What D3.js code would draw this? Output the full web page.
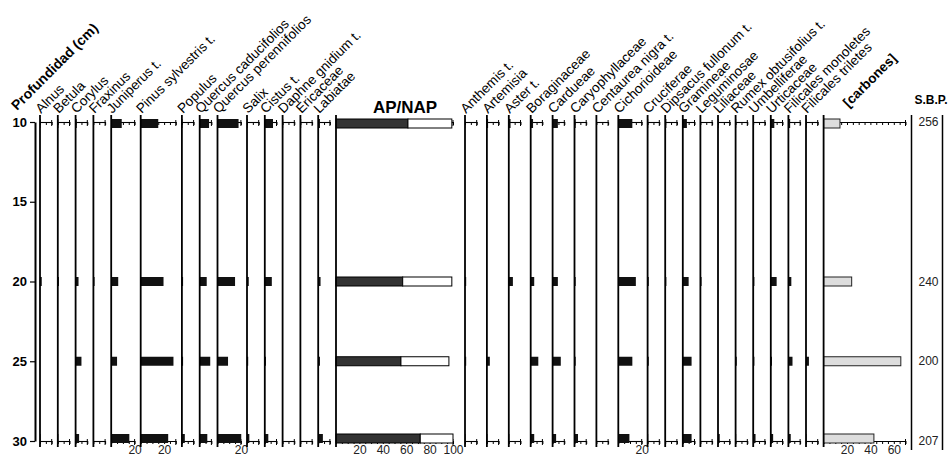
<!DOCTYPE html>
<html><head><meta charset="utf-8">
<script src="https://cdn.jsdelivr.net/npm/d3@7"></script>
<style>body{margin:0;background:#fff}svg{display:block;font-family:"Liberation Sans",Arial,sans-serif}</style>
</head><body><svg id="c" width="948" height="457"></svg>
<script>
// ---------- data ----------
const depths = [10, 20, 25, 30];
const depthTicks = [10, 15, 20, 25, 30];
const sbpAges = [256, 240, 200, 207];

const leftTaxa = ["Alnus","Betula","Corylus","Fraxinus","Juniperus t.","Pinus sylvestris t.","Populus",
  "Quercus caducifolios","Quercus perennifolios","Salix","Cistus t.","Daphne gnidium t.","Ericaceae","Labiatae"];
const rightTaxa = ["Anthemis t.","Artemisia","Aster t.","Boraginaceae","Cardueae","Caryophyllaceae",
  "Centaurea nigra t.","Cichorioideae","Cruciferae","Dipsacus fullonum t.","Gramineae","Leguminosae",
  "Liliaceae","Rumex obtusifolius t.","Umbelliferae","Urticaceae","Filicales monoletes","Filicales triletes"];

// axis maxima (%) of each taxon panel
const leftMax  = [10,10,10,10,20,30,10,10,20,10,10,10,10,10];
const rightMax = [10,10,10,10,10,10,10,20,10,10,10,10,10,10,10,10,10,10];
const labelledTicks = [20];
const labelledTaxa = ["Juniperus t.","Pinus sylvestris t.","Quercus perennifolios","Cichorioideae"];

// percentages per depth (left taxa)
const left10 = [0.5,0.5,1,0.5,9,15,0.5,8,18,0.5,7,0.5,0.7,1.5];
const left20 = [1.5,1,2.5,1,6,19.5,1,6,15,1.5,6,0,0,2];
const left25 = [0,0,5,0,5,28,1,9,9,1,1,0,0,1.5];
const left30 = [0.5,0.5,3,0.5,15.5,23.5,2.5,6.5,20.3,2,3,0.3,0.5,4];
// percentages per depth (right taxa)
const right10 = [0.3,1,1.5,2,4.5,1,0.5,12,0.5,1,3.5,0.5,0.5,0.5,0.5,3,1.5,0.5];
const right20 = [1,0,3.5,3,4.5,1,0,15,1,1,5,1,0,0,1,5,2.5,0];
const right25 = [1,2.5,0,6.5,7,1,0,12,1,0,7.5,0,0,1,1,1,3.5,2.5];
const right30 = [0.5,0.5,0.5,3,3,3,0.3,9.5,0.5,0.5,7.5,0.5,1.5,0.5,2,2,2,0.5];

const apValues  = [61.5, 57, 55.5, 72];
const napValues = [37.5, 42, 41, 28];
const apTicks = [20, 40, 60, 80, 100];

const carbones = [14, 24, 66, 43];
const carbonesMax = 70;
const carbonesTicks = [20, 40, 60];

// ---------- layout ----------
const svg = d3.select("#c");
const y = d3.scaleLinear().domain([10, 30]).range([122, 441]);
const K = 1.17;              // px per percent
const barH = 9;
const lineTop = 115, lineBot = 447;
function barTop(d) {
  let t = y(d) - barH / 2;
  t = Math.max(t, y(10) - 3);
  t = Math.min(t, y(30) + 2 - barH);
  return t;
}

// depth axis
const dAx = svg.append("g").attr("transform", "translate(35,0)")
  .call(d3.axisLeft(y).tickValues(depthTicks).tickSize(5).tickSizeOuter(0).tickPadding(3));
dAx.select(".domain").attr("stroke-width", 2);
dAx.selectAll("text").attr("font-size", 13).attr("font-weight", "bold").attr("fill", "#000")
  .attr("font-family", "Liberation Sans, Arial, sans-serif");
dAx.selectAll("line").attr("stroke-width", 1.2);

svg.append("text").attr("transform", "translate(17,111) rotate(-45)")
  .attr("font-size", 14).attr("font-weight", "bold").text("Profundidad (cm)");

function panelAxes(xs, max, tickLabels) {
  const ticks = d3.range(0, max + 0.01, 5);
  [y(10), y(30)].forEach((yy, i) => {
    const ax = d3.axisBottom(xs).tickValues(ticks).tickSize(3).tickSizeOuter(0).tickPadding(1)
      .tickFormat(v => (i === 1 && tickLabels.includes(v)) ? v : "");
    const g = svg.append("g").attr("transform", `translate(0,${yy})`).call(ax);
    g.select(".domain").attr("stroke-width", 1.1);
    g.selectAll("line").attr("stroke-width", 1);
    g.selectAll("text").attr("font-size", 12).attr("fill", "#222")
      .attr("font-family", "Liberation Sans, Arial, sans-serif");
    // right end tick
    g.append("line").attr("x1", xs(max)).attr("x2", xs(max)).attr("y1", -2).attr("y2", 4)
      .attr("stroke", "#000");
  });
}

function baseline(x0) {
  svg.append("line").attr("x1", x0).attr("x2", x0).attr("y1", lineTop).attr("y2", lineBot)
    .attr("stroke", "#000").attr("stroke-width", 1.8);
}

function taxonLabel(x0, name) {
  svg.append("text").attr("transform", `translate(${x0 + 1},${114}) rotate(-45)`)
    .attr("font-size", 13.6).text(name);
}

function pollenPanel(x0, name, max, vals) {
  const xs = d3.scaleLinear().domain([0, max]).range([x0, x0 + max * K]);
  panelAxes(xs, max, labelledTaxa.includes(name) ? labelledTicks : []);
  svg.append("g").selectAll("rect").data(depths).join("rect")
    .attr("x", x0).attr("y", d => barTop(d))
    .attr("width", (d, i) => xs(vals[i]) - x0).attr("height", barH)
    .attr("fill", "#111");
  baseline(x0);
  taxonLabel(x0, name);
  return x0 + max * K;
}

let x = 40;
leftTaxa.forEach((name, j) => {
  const vals = [left10[j], left20[j], left25[j], left30[j]];
  const end = pollenPanel(x, name, leftMax[j], vals);
  x = end + 6.1;
});

// AP/NAP panel
{
  const x0 = x;
  const xs = d3.scaleLinear().domain([0, 100]).range([x0, x0 + 100 * K]);
  panelAxes(xs, 100, apTicks);
  const g = svg.append("g");
  g.selectAll("rect.ap").data(depths).join("rect").attr("class", "ap")
    .attr("x", x0).attr("y", d => barTop(d))
    .attr("width", (d, i) => xs(apValues[i]) - x0).attr("height", barH)
    .attr("fill", "#333").attr("stroke", "#000").attr("stroke-width", 1);
  g.selectAll("rect.nap").data(depths).join("rect").attr("class", "nap")
    .attr("x", (d, i) => xs(apValues[i])).attr("y", d => barTop(d))
    .attr("width", (d, i) => xs(apValues[i] + napValues[i]) - xs(apValues[i])).attr("height", barH)
    .attr("fill", "#fff").attr("stroke", "#000").attr("stroke-width", 1);
  baseline(x0);
  svg.append("text").attr("x", xs(59)).attr("y", 113).attr("text-anchor", "middle")
    .attr("font-size", 17).attr("font-weight", "bold").text("AP/NAP");
  x = xs(100) + 12;
}

rightTaxa.forEach((name, j) => {
  const vals = [right10[j], right20[j], right25[j], right30[j]];
  const end = pollenPanel(x, name, rightMax[j], vals);
  x = end + (j < 7 ? 10.2 : 5.9);
});

// carbones panel
{
  const x0 = x;
  const xs = d3.scaleLinear().domain([0, carbonesMax]).range([x0, x0 + carbonesMax * K]);
  panelAxes(xs, carbonesMax, carbonesTicks);
  svg.append("g").selectAll("rect").data(depths).join("rect")
    .attr("x", x0).attr("y", d => barTop(d))
    .attr("width", (d, i) => xs(carbones[i]) - x0).attr("height", barH)
    .attr("fill", "#ddd").attr("stroke", "#222").attr("stroke-width", 1);
  baseline(x0);
  svg.append("text").attr("transform", `translate(${x0 + 25},108) rotate(-45)`)
    .attr("font-size", 13.5).attr("font-weight", "bold").text("[carbones]");
  x = xs(carbonesMax);
}

// S.B.P. column
{
  const xl = x + 6, xr = x + 37;
  [xl, xr].forEach(xx => svg.append("line").attr("x1", xx).attr("x2", xx)
    .attr("y1", lineTop).attr("y2", 450).attr("stroke", "#000").attr("stroke-width", 1.5));
  svg.append("text").attr("x", xl + 3).attr("y", 104).attr("font-size", 12).attr("font-weight", "bold").text("S.B.P.");
  svg.append("g").selectAll("text").data(depths).join("text")
    .attr("x", xr - 4).attr("y", d => y(d)).attr("dy", "0.35em").attr("text-anchor", "end")
    .attr("font-size", 12).attr("fill", "#222").text((d, i) => sbpAges[i]);
}
</script></body></html>
